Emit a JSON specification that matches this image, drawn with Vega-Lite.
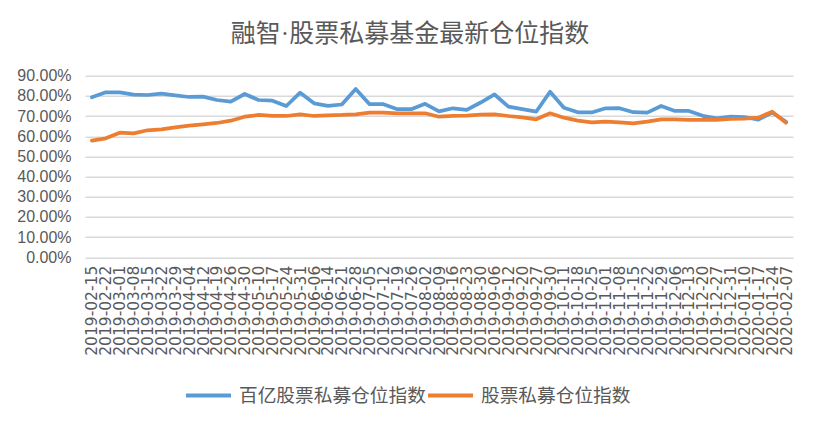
{
  "$schema": "https://vega.github.io/schema/vega-lite/v6.json",
  "width": 708,
  "height": 181.5,
  "autosize": {"type": "none"},
  "padding": {"left": 85, "top": 75.7, "right": 25, "bottom": 167.8},
  "background": "white",
  "title": {
    "text": "融智·股票私募基金最新仓位指数",
    "font": "Liberation Serif, Noto Sans CJK SC",
    "fontSize": 25,
    "fontWeight": "normal",
    "color": "#595959",
    "anchor": "middle",
    "frame": "group",
    "dx": -29,
    "offset": 21
  },
  "data": {
    "values": [
      {"date": "2019-02-15", "百亿股票私募仓位指数": 0.7929, "股票私募仓位指数": 0.5777},
      {"date": "2019-02-22", "百亿股票私募仓位指数": 0.8177, "股票私募仓位指数": 0.5896},
      {"date": "2019-03-01", "百亿股票私募仓位指数": 0.8177, "股票私募仓位指数": 0.6174},
      {"date": "2019-03-08", "百亿股票私募仓位指数": 0.8058, "股票私募仓位指数": 0.6144},
      {"date": "2019-03-15", "百亿股票私募仓位指数": 0.8043, "股票私募仓位指数": 0.6293},
      {"date": "2019-03-22", "百亿股票私募仓位指数": 0.8108, "股票私募仓位指数": 0.6343},
      {"date": "2019-03-29", "百亿股票私募仓位指数": 0.8028, "股票私募仓位指数": 0.6442},
      {"date": "2019-04-04", "百亿股票私募仓位指数": 0.7944, "股票私募仓位指数": 0.6521},
      {"date": "2019-04-12", "百亿股票私募仓位指数": 0.7959, "股票私募仓位指数": 0.6590},
      {"date": "2019-04-19", "百亿股票私募仓位指数": 0.7795, "股票私募仓位指数": 0.6655},
      {"date": "2019-04-26", "百亿股票私募仓位指数": 0.7711, "股票私募仓位指数": 0.6769},
      {"date": "2019-04-30", "百亿股票私募仓位指数": 0.8093, "股票私募仓位指数": 0.6967},
      {"date": "2019-05-10", "百亿股票私募仓位指数": 0.7795, "股票私募仓位指数": 0.7052},
      {"date": "2019-05-17", "百亿股票私募仓位指数": 0.7761, "股票私募仓位指数": 0.7002},
      {"date": "2019-05-24", "百亿股票私募仓位指数": 0.7498, "股票私募仓位指数": 0.7002},
      {"date": "2019-05-31", "百亿股票私募仓位指数": 0.8157, "股票私募仓位指数": 0.7086},
      {"date": "2019-06-06", "百亿股票私募仓位指数": 0.7632, "股票私募仓位指数": 0.7002},
      {"date": "2019-06-14", "百亿股票私募仓位指数": 0.7508, "股票私募仓位指数": 0.7037},
      {"date": "2019-06-21", "百亿股票私募仓位指数": 0.7572, "股票私募仓位指数": 0.7052},
      {"date": "2019-06-28", "百亿股票私募仓位指数": 0.8341, "股票私募仓位指数": 0.7086},
      {"date": "2019-07-05", "百亿股票私募仓位指数": 0.7587, "股票私募仓位指数": 0.7166},
      {"date": "2019-07-12", "百亿股票私募仓位指数": 0.7587, "股票私募仓位指数": 0.7166},
      {"date": "2019-07-19", "百亿股票私募仓位指数": 0.7339, "股票私募仓位指数": 0.7136},
      {"date": "2019-07-26", "百亿股票私募仓位指数": 0.7339, "股票私募仓位指数": 0.7136},
      {"date": "2019-08-02", "百亿股票私募仓位指数": 0.7607, "股票私募仓位指数": 0.7136},
      {"date": "2019-08-09", "百亿股票私募仓位指数": 0.7230, "股票私募仓位指数": 0.6967},
      {"date": "2019-08-16", "百亿股票私募仓位指数": 0.7384, "股票私募仓位指数": 0.7002},
      {"date": "2019-08-23", "百亿股票私募仓位指数": 0.7309, "股票私募仓位指数": 0.7017},
      {"date": "2019-08-30", "百亿股票私募仓位指数": 0.7671, "股票私募仓位指数": 0.7066},
      {"date": "2019-09-06", "百亿股票私募仓位指数": 0.8068, "股票私募仓位指数": 0.7086},
      {"date": "2019-09-12", "百亿股票私募仓位指数": 0.7463, "股票私募仓位指数": 0.7002},
      {"date": "2019-09-20", "百亿股票私募仓位指数": 0.7339, "股票私募仓位指数": 0.6938},
      {"date": "2019-09-27", "百亿股票私募仓位指数": 0.7215, "股票私募仓位指数": 0.6838},
      {"date": "2019-09-30", "百亿股票私募仓位指数": 0.8202, "股票私募仓位指数": 0.7136},
      {"date": "2019-10-11", "百亿股票私募仓位指数": 0.7409, "股票私募仓位指数": 0.6918},
      {"date": "2019-10-18", "百亿股票私募仓位指数": 0.7185, "股票私募仓位指数": 0.6769},
      {"date": "2019-10-25", "百亿股票私募仓位指数": 0.7176, "股票私募仓位指数": 0.6690},
      {"date": "2019-11-01", "百亿股票私募仓位指数": 0.7384, "股票私募仓位指数": 0.6719},
      {"date": "2019-11-08", "百亿股票私募仓位指数": 0.7389, "股票私募仓位指数": 0.6690},
      {"date": "2019-11-15", "百亿股票私募仓位指数": 0.7190, "股票私募仓位指数": 0.6640},
      {"date": "2019-11-22", "百亿股票私募仓位指数": 0.7166, "股票私募仓位指数": 0.6719},
      {"date": "2019-11-29", "百亿股票私募仓位指数": 0.7498, "股票私募仓位指数": 0.6838},
      {"date": "2019-12-06", "百亿股票私募仓位指数": 0.7250, "股票私募仓位指数": 0.6838},
      {"date": "2019-12-13", "百亿股票私募仓位指数": 0.7250, "股票私募仓位指数": 0.6804},
      {"date": "2019-12-20", "百亿股票私募仓位指数": 0.7012, "股票私募仓位指数": 0.6804},
      {"date": "2019-12-27", "百亿股票私募仓位指数": 0.6888, "股票私募仓位指数": 0.6804},
      {"date": "2019-12-31", "百亿股票私募仓位指数": 0.6967, "股票私募仓位指数": 0.6853},
      {"date": "2020-01-10", "百亿股票私募仓位指数": 0.6952, "股票私募仓位指数": 0.6868},
      {"date": "2020-01-17", "百亿股票私募仓位指数": 0.6819, "股票私募仓位指数": 0.6918},
      {"date": "2020-01-24", "百亿股票私募仓位指数": 0.7176, "股票私募仓位指数": 0.7215},
      {"date": "2020-02-07", "百亿股票私募仓位指数": 0.6719, "股票私募仓位指数": 0.6670}
    ]
  },
  "transform": [
    {"fold": ["百亿股票私募仓位指数", "股票私募仓位指数"], "as": ["series", "value"]}
  ],
  "mark": {"type": "line", "strokeWidth": 3.75, "strokeJoin": "round", "strokeCap": "round"},
  "encoding": {
    "x": {
      "field": "date",
      "type": "ordinal",
      "sort": null,
      "scale": {"type": "point", "padding": 0.5},
      "axis": {
        "title": null,
        "labelAngle": -90,
        "labelFont": "DejaVu Sans",
        "labelFontSize": 15.5,
        "labelColor": "#595959",
        "labelPadding": 8,
        "labelOverlap": false,
        "ticks": false,
        "domain": false,
        "grid": false
      }
    },
    "y": {
      "field": "value",
      "type": "quantitative",
      "scale": {"domain": [0, 0.9], "nice": false},
      "axis": {
        "title": null,
        "format": ".2%",
        "values": [0, 0.1, 0.2, 0.3, 0.4, 0.5, 0.6, 0.7, 0.8, 0.9],
        "grid": true,
        "gridColor": "#d9d9d9",
        "gridWidth": 1.5,
        "domain": false,
        "ticks": false,
        "labelPadding": 14,
        "labelFont": "Liberation Sans",
        "labelFontSize": 16,
        "labelColor": "#595959"
      }
    },
    "color": {
      "field": "series",
      "type": "nominal",
      "sort": ["百亿股票私募仓位指数", "股票私募仓位指数"],
      "scale": {"range": ["#5b9bd5", "#ed7d31"]},
      "legend": {
        "title": null,
        "orient": "none",
        "legendX": 99,
        "legendY": 295,
        "direction": "horizontal",
        "symbolType": "stroke",
        "symbolSize": 2025,
        "symbolStrokeWidth": 4,
        "labelFont": "Noto Sans CJK SC",
        "labelFontSize": 18.7,
        "labelColor": "#595959",
        "labelOffset": 6,
        "columnPadding": -20,
        "labelLimit": 300
      }
    }
  },
  "config": {"view": {"stroke": null}}
}
